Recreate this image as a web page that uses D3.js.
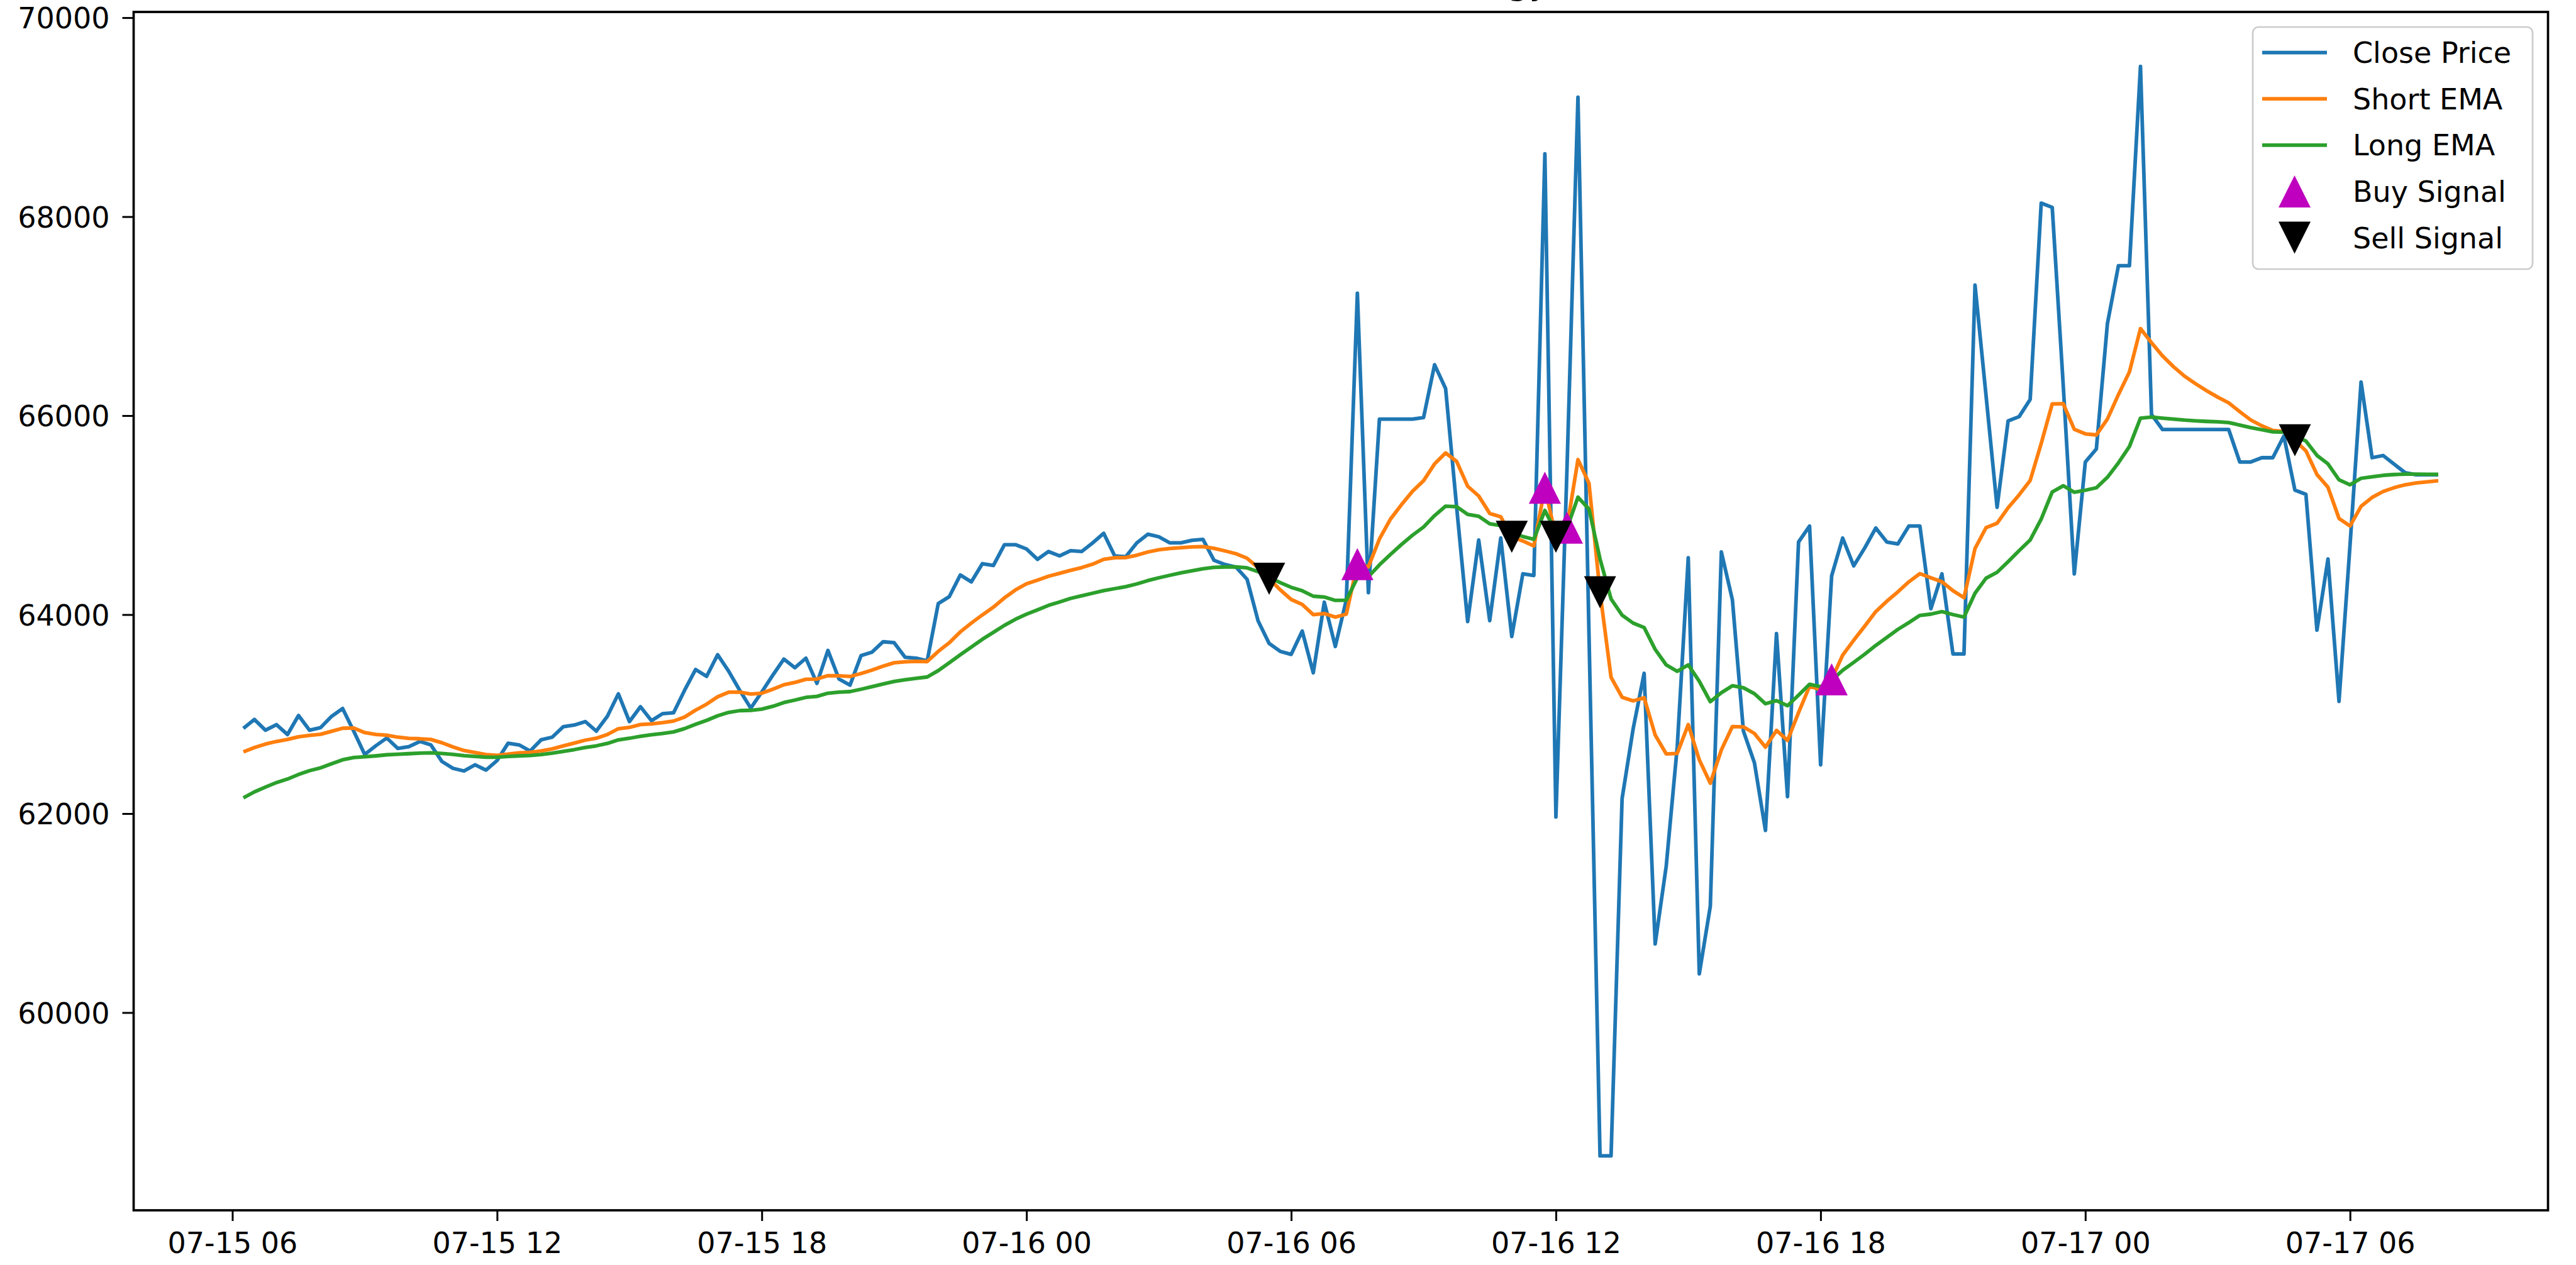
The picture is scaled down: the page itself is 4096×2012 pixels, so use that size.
<!DOCTYPE html>
<html><head><meta charset="utf-8">
<script src="https://cdn.jsdelivr.net/npm/d3@7"></script>
<style>html,body{margin:0;padding:0;background:#fff;overflow:hidden}</style>
</head><body>
<svg id="chart" width="4096" height="2012"></svg>
<script>
// ---------- data ----------
const titleText = "EMA Crossover Strategy";
const startTime = "2024-07-15T06:15:00";
const stepMinutes = 15;
const closePrice = [62856,62946,62838,62894,62795,62986,62838,62864,62978,63056,
 62829,62594,62681,62760,62655,62672,62725,62690,62524,62455,
 62428,62490,62437,62533,62707,62690,62629,62742,62768,62873,
 62890,62925,62829,62978,63204,62925,63074,62934,63004,63013,
 63239,63448,63379,63597,63431,63239,63060,63222,63391,63553,
 63466,63562,63309,63640,63352,63291,63588,63623,63727,63718,
 63571,63562,63535,64111,64180,64398,64329,64512,64494,64703,
 64703,64660,64555,64634,64590,64642,64634,64721,64817,64590,
 64582,64721,64808,64782,64721,64721,64747,64756,64546,64503,
 64477,64355,63937,63710,63631,63600,63835,63415,64125,63680,
 64150,67230,64220,65965,65965,65965,65965,65980,66511,66272,
 65080,63930,64750,63940,64770,63780,64410,64393,68631,61966,
 65450,69200,63800,58560,58560,62150,62850,63410,60690,61470,
 62670,64571,60389,61070,64630,64150,62830,62510,61830,63810,
 62170,64730,64890,62490,64390,64770,64490,64670,64870,64730,
 64710,64890,64890,64060,64409,63605,63605,67312,66200,65078,
 65947,65990,66163,68136,68093,66300,64409,65534,65664,66922,
 67507,67507,69510,66011,65860,65860,65860,65860,65860,65860,
 65860,65534,65534,65577,65577,65795,65252,65209,63844,64559,
 63128,64700,66337,65577,65599,65512,65426,65405,65405,65405];
const shortEMA = [62620,62664,62699,62725,62745,62772,62786,62797,62827,62858,
 62860,62814,62795,62788,62768,62756,62752,62745,62712,62670,
 62634,62614,62593,62585,62598,62610,62616,62630,62650,62680,
 62709,62738,62757,62795,62853,62866,62895,62902,62914,62930,
 62970,63040,63100,63174,63220,63221,63202,63210,63250,63295,
 63318,63350,63352,63387,63385,63378,63408,63442,63482,63516,
 63526,63530,63528,63630,63717,63826,63915,63997,64075,64168,
 64248,64310,64347,64386,64415,64445,64472,64507,64556,64572,
 64573,64597,64629,64652,64664,64673,64680,64684,64666,64640,
 64612,64567,64470,64360,64250,64152,64102,64000,64011,63975,
 64005,64508,64480,64760,64960,65105,65240,65345,65515,65625,
 65540,65290,65192,65017,64983,64782,64740,64690,65275,64782,
 64874,65558,65320,64224,63370,63170,63133,63165,62790,62600,
 62605,62895,62540,62305,62640,62875,62872,62805,62668,62836,
 62735,63015,63280,63245,63350,63593,63742,63884,64030,64134,
 64228,64329,64412,64370,64330,64240,64170,64665,64874,64918,
 65074,65204,65348,65720,66118,66120,65862,65817,65806,65965,
 66211,66440,66875,66733,66600,66491,66396,66320,66250,66186,
 66128,66040,65956,65898,65851,65842,65752,65646,65408,65280,
 64967,64890,65088,65178,65237,65276,65305,65323,65335,65345];
const longEMA = [62158,62218,62266,62312,62347,62393,62431,62460,62501,62541,
 62563,62571,62580,62591,62596,62602,62608,62611,62605,62595,
 62582,62575,62567,62566,62574,62580,62584,62594,62607,62625,
 62643,62665,62681,62705,62741,62757,62777,62792,62805,62821,
 62854,62897,62937,62983,63017,63035,63038,63050,63078,63116,
 63141,63168,63178,63210,63220,63226,63250,63276,63303,63328,
 63345,63360,63373,63437,63516,63596,63674,63752,63822,63892,
 63953,64004,64048,64093,64127,64163,64189,64215,64241,64261,
 64281,64308,64342,64370,64395,64420,64440,64461,64475,64479,
 64480,64470,64432,64375,64322,64274,64240,64185,64177,64143,
 64145,64370,64380,64500,64605,64705,64798,64880,64995,65090,
 65085,65008,64988,64912,64895,64820,64785,64757,65047,64830,
 64865,65180,65060,64560,64158,63995,63915,63870,63650,63495,
 63430,63495,63330,63125,63215,63285,63265,63205,63104,63135,
 63084,63190,63300,63275,63340,63440,63520,63602,63690,63770,
 63851,63920,63992,64005,64030,64000,63975,64215,64366,64425,
 64532,64643,64750,64960,65233,65295,65230,65250,65275,65380,
 65525,65690,65975,65985,65975,65965,65955,65948,65942,65938,
 65930,65905,65880,65858,65837,65834,65792,65745,65600,65515,
 65355,65305,65370,65385,65400,65408,65412,65412,65410,65410];
const buyTimes = ["2024-07-16T07:30:00","2024-07-16T11:45:00","2024-07-16T12:15:00","2024-07-16T18:15:00"];
const buyValues = [64508, 65275, 64874, 63350];
const sellTimes = ["2024-07-16T05:30:00","2024-07-16T11:00:00","2024-07-16T12:00:00","2024-07-16T13:00:00","2024-07-17T04:45:00"];
const sellValues = [64360, 64782, 64782, 64224, 65752];
const yTicks = [60000, 62000, 64000, 66000, 68000, 70000];
const xTickLabels = ["07-15 06","07-15 12","07-15 18","07-16 00","07-16 06","07-16 12","07-16 18","07-17 00","07-17 06"];
const xTickYear = "2024";
const legendLabels = ["Close Price","Short EMA","Long EMA","Buy Signal","Sell Signal"];

// ---------- layout ----------
const C = {blue:"#1f77b4", orange:"#ff7f0e", green:"#2ca02c", buy:"#bf00bf", sell:"#000000"};
const L = 212.5, R = 4051.5, T = 19, B = 1925;
const FONT = "DejaVu Sans", FS = 46;
const LW = 5.8, MS = 51;

const parseT = d3.timeParse("%Y-%m-%dT%H:%M:%S");
const t0 = parseT(startTime);
const times = closePrice.map((_, i) => d3.timeMinute.offset(t0, i * stepMinutes));
const parseTick = d3.timeParse("%Y-%m-%d %H");
const xTicks = xTickLabels.map(s => parseTick(xTickYear + "-" + s));

const tExt = d3.extent(times);
const tPad = (tExt[1] - tExt[0]) * 0.05;
const x = d3.scaleTime().domain([new Date(+tExt[0] - tPad), new Date(+tExt[1] + tPad)]).range([L, R]);
const allV = closePrice.concat(shortEMA, longEMA, buyValues, sellValues);
const vExt = d3.extent(allV);
const vPad = (vExt[1] - vExt[0]) * 0.05;
const y = d3.scaleLinear().domain([vExt[0] - vPad, vExt[1] + vPad]).range([B, T]);

const svg = d3.select("#chart");
svg.append("rect").attr("width", 4096).attr("height", 2012).attr("fill", "#fff");

// title (mostly clipped above the window)
svg.append("text").attr("x", (L + R) / 2).attr("y", -10)
  .attr("text-anchor", "middle").attr("font-family", FONT).attr("font-size", 55)
  .attr("fill", "#000").text(titleText);

// lines
const lineGen = arr => d3.line().x((d, i) => x(times[i])).y(d => y(d))(arr);
[[closePrice, C.blue], [shortEMA, C.orange], [longEMA, C.green]].forEach(([arr, col]) => {
  svg.append("path").attr("d", lineGen(arr)).attr("fill", "none")
    .attr("stroke", col).attr("stroke-width", LW)
    .attr("stroke-linejoin", "round").attr("stroke-linecap", "butt");
});

// markers
function tri(up, s) {
  const h = s / 2;
  return up ? `M0,${-h}L${-h},${h}L${h},${h}Z` : `M0,${h}L${-h},${-h}L${h},${-h}Z`;
}
svg.append("g").selectAll("path").data(buyTimes).join("path")
  .attr("d", tri(true, MS)).attr("fill", C.buy)
  .attr("transform", (d, i) => `translate(${x(parseT(d))},${y(buyValues[i])})`);
svg.append("g").selectAll("path").data(sellTimes).join("path")
  .attr("d", tri(false, MS)).attr("fill", C.sell)
  .attr("transform", (d, i) => `translate(${x(parseT(d))},${y(sellValues[i])})`);

// axes
const yAxis = d3.axisLeft(y).tickValues(yTicks).tickFormat(d3.format("d")).tickSize(18).tickPadding(20);
const gy = svg.append("g").attr("transform", `translate(${L},0)`).call(yAxis);
gy.select(".domain").remove();
gy.selectAll("line").attr("stroke", "#000").attr("stroke-width", 3);
gy.selectAll("text").attr("font-family", FONT).attr("font-size", FS).attr("fill", "#000").attr("dy", "0.36em");

const xAxis = d3.axisBottom(x).tickValues(xTicks).tickFormat(d3.timeFormat("%m-%d %H")).tickSize(17).tickPadding(18);
const gx = svg.append("g").attr("transform", `translate(0,${B})`).call(xAxis);
gx.select(".domain").remove();
gx.selectAll("line").attr("stroke", "#000").attr("stroke-width", 3);
gx.selectAll("text").attr("font-family", FONT).attr("font-size", FS).attr("fill", "#000");

// spines
svg.append("rect").attr("x", L).attr("y", T).attr("width", R - L).attr("height", B - T)
  .attr("fill", "none").attr("stroke", "#000").attr("stroke-width", 3.7);

// legend
const lg = svg.append("g");
lg.append("rect").attr("x", 3582).attr("y", 43).attr("width", 445).attr("height", 385).attr("rx", 9)
  .attr("fill", "#fff").attr("fill-opacity", 0.8).attr("stroke", "#cccccc").attr("stroke-width", 2.7);
const rowY = i => 83.6 + i * 73.6;
const hx0 = 3597, hx1 = 3700, tx = 3741;
[C.blue, C.orange, C.green].forEach((col, i) => {
  lg.append("line").attr("x1", hx0).attr("x2", hx1).attr("y1", rowY(i)).attr("y2", rowY(i))
    .attr("stroke", col).attr("stroke-width", LW);
});
lg.append("path").attr("d", tri(true, MS)).attr("fill", C.buy).attr("transform", `translate(${(hx0 + hx1) / 2},${rowY(3)})`);
lg.append("path").attr("d", tri(false, MS)).attr("fill", C.sell).attr("transform", `translate(${(hx0 + hx1) / 2},${rowY(4)})`);
legendLabels.forEach((s, i) => {
  lg.append("text").attr("x", tx).attr("y", rowY(i)).attr("dy", "0.36em")
    .attr("font-family", FONT).attr("font-size", FS).attr("fill", "#000").text(s);
});
</script>
</body></html>
